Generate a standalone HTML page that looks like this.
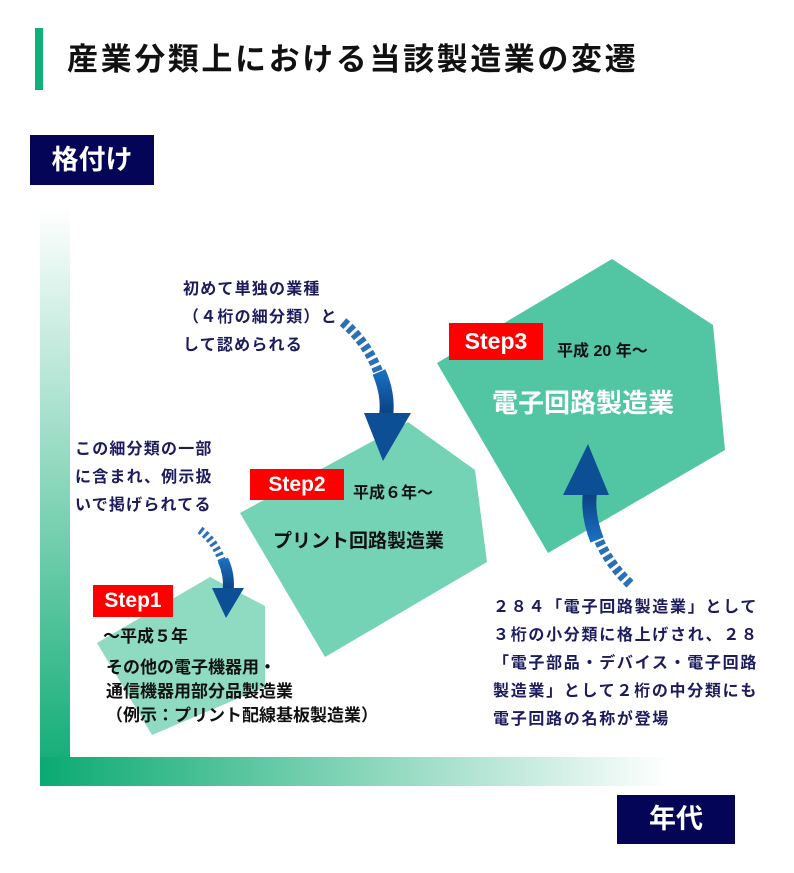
<!DOCTYPE html>
<html><head><meta charset="utf-8"><style>
body{margin:0;width:794px;height:873px;background:#fff;position:relative;overflow:hidden;font-family:"Liberation Sans","Noto Sans CJK JP",sans-serif;}
.a{position:absolute;white-space:nowrap;}
.nv{color:#1b1b5e;font-weight:bold;font-size:16px;letter-spacing:1.2px;line-height:28px;}
.red{position:absolute;background:#f00;color:#fff;font-weight:bold;font-size:21px;text-align:center;}
.box{position:absolute;background:#050558;color:#fff;font-weight:bold;font-size:27px;text-align:center;}
</style></head><body>
<div class="a" style="left:35px;top:28px;width:8px;height:62px;background:#10b07a"></div>
<div class="a" style="left:67px;top:38px;font-size:31px;font-weight:bold;color:#111;letter-spacing:2.6px;line-height:44px">産業分類上における当該製造業の変遷</div>
<div class="box" style="left:30px;top:135px;width:124px;height:50px;line-height:50px">格付け</div>
<div class="box" style="left:617px;top:795px;width:118px;height:49px;line-height:49px">年代</div>
<svg class="a" style="left:0;top:0" width="794" height="873">
<defs>
<linearGradient id="gv" x1="0" y1="0" x2="0" y2="1"><stop offset="0" stop-color="#fff"/><stop offset="1" stop-color="#0aaa72"/></linearGradient>
<linearGradient id="gh" x1="0" y1="0" x2="1" y2="0"><stop offset="0" stop-color="#0aaa72"/><stop offset="1" stop-color="#fff"/></linearGradient>
<linearGradient id="ga" x1="0" y1="0" x2="0" y2="1"><stop offset="0" stop-color="#1a6fc0"/><stop offset="1" stop-color="#0a3f80"/></linearGradient>
<linearGradient id="gb" x1="0" y1="1" x2="0" y2="0"><stop offset="0" stop-color="#1a6fc0"/><stop offset="1" stop-color="#0a3f80"/></linearGradient>
</defs>
<rect x="40" y="207" width="30" height="579" fill="url(#gv)"/>
<rect x="40" y="757" width="630" height="29" fill="url(#gh)"/>
<polygon points="210,577 265,606 265,687 152,735 97,643" fill="#8edbc2"/>
<polygon points="408,422 475,470 487,562 325,657 240,513" fill="#74d3b4"/>
<polygon points="612,259 713,325 725,450 548,553 437,363" fill="#52c6a2"/>
<path d="M200,530 Q220,545 226,575" fill="none" stroke="#2a6fb8" stroke-width="8" stroke-dasharray="3,3"/>
<path d="M223,560 Q230,575 228,592" fill="none" stroke="url(#ga)" stroke-width="11"/>
<polygon points="212,588 244,588 226,618" fill="#0d4f95"/>
<path d="M343,322 Q370,345 381,380" fill="none" stroke="#2a6fb8" stroke-width="10" stroke-dasharray="5,3"/>
<path d="M379,372 Q389,395 386,416" fill="none" stroke="url(#ga)" stroke-width="14"/>
<polygon points="364,413 411,413 383,461" fill="#0d4f95"/>
<path d="M630,584 Q605,560 595,530" fill="none" stroke="#2a6fb8" stroke-width="10" stroke-dasharray="5,3"/>
<path d="M597,540 Q587,515 590,492" fill="none" stroke="url(#gb)" stroke-width="14"/>
<polygon points="563,495 609,495 588,444" fill="#0d4f95"/>
</svg>
<div class="a nv" style="left:183px;top:276px">初めて単独の業種<br>（４桁の細分類）と<br>して認められる</div>
<div class="a nv" style="left:75px;top:436px">この細分類の一部<br>に含まれ、例示扱<br>いで掲げられてる</div>
<div class="a nv" style="left:493px;top:594px;letter-spacing:1.7px">２８４「電子回路製造業」として<br>３桁の小分類に格上げされ、２８<br>「電子部品・デバイス・電子回路<br>製造業」として２桁の中分類にも<br>電子回路の名称が登場</div>
<div class="red" style="left:93px;top:585px;width:80px;height:32px;line-height:32px">Step1</div>
<div class="red" style="left:250px;top:469px;width:94px;height:31px;line-height:31px">Step2</div>
<div class="red" style="left:449px;top:323px;width:94px;height:37px;line-height:37px;font-size:23px">Step3</div>
<div class="a" style="left:103px;top:622px;font-size:17px;font-weight:bold;color:#111">～平成５年</div>
<div class="a" style="left:353px;top:479px;font-size:16px;font-weight:bold;color:#111">平成６年～</div>
<div class="a" style="left:557px;top:337px;font-size:16px;font-weight:bold;color:#111">平成 20 年～</div>
<div class="a" style="left:273px;top:526px;font-size:19px;font-weight:bold;color:#111">プリント回路製造業</div>
<div class="a" style="left:492px;top:383px;font-size:26px;font-weight:bold;color:#fff">電子回路製造業</div>
<div class="a" style="left:106px;top:656px;font-size:17px;font-weight:bold;color:#111;line-height:24px">その他の電子機器用・<br>通信機器用部分品製造業<br>（例示：プリント配線基板製造業）</div>
</body></html>
